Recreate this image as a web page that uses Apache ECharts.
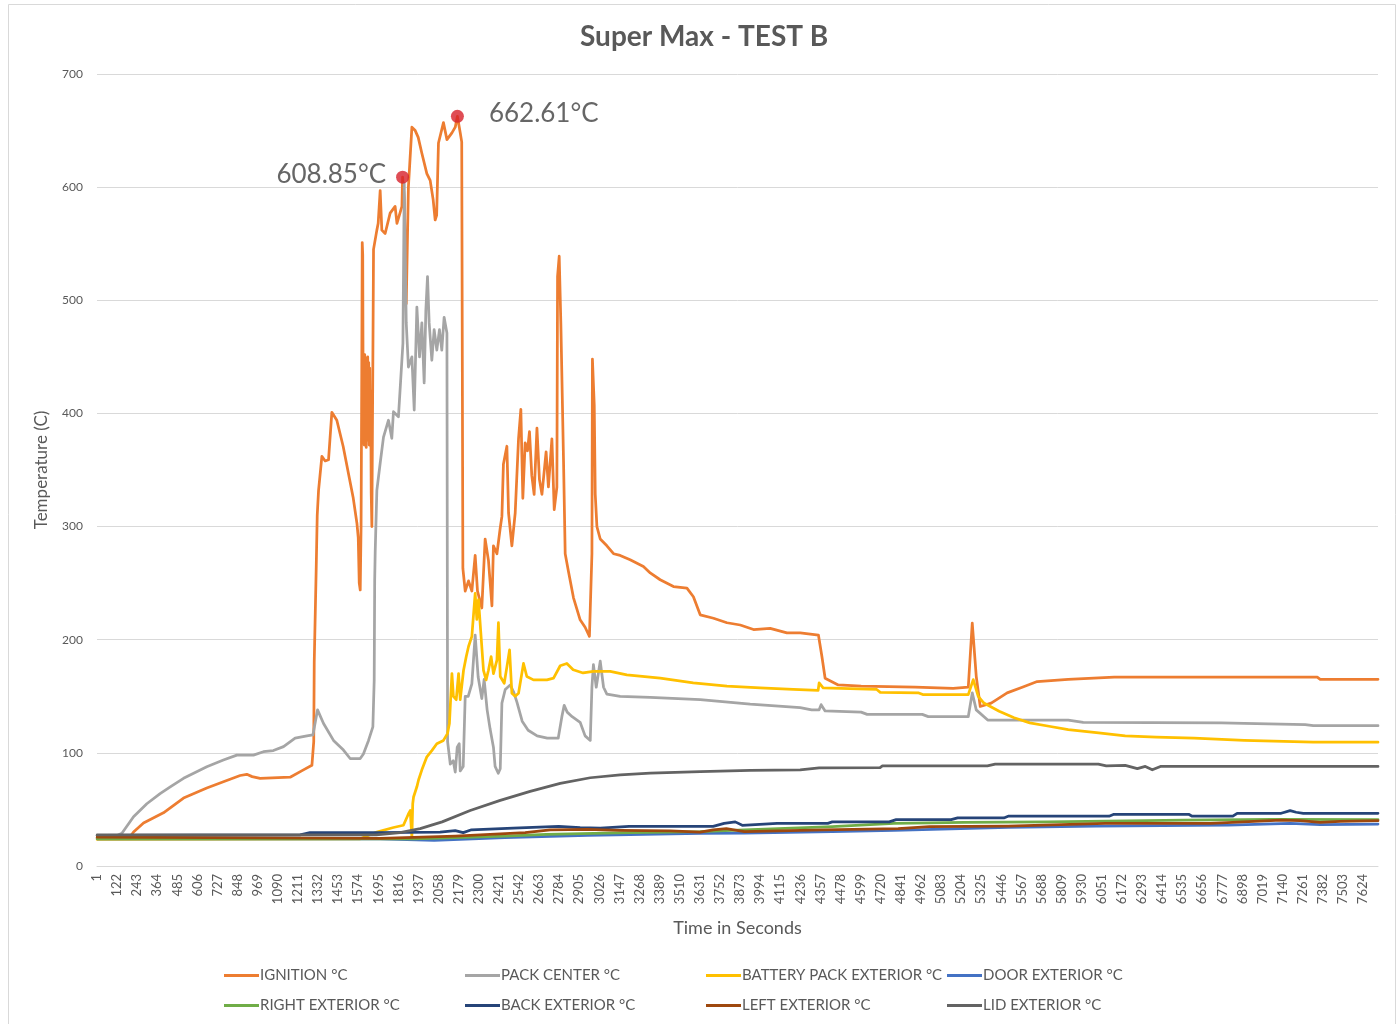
<!DOCTYPE html>
<html>
<head>
<meta charset="utf-8">
<title>Super Max - TEST B</title>
<script src="https://cdn.jsdelivr.net/npm/echarts@6.0.0/dist/echarts.min.js"></script>
<style>
  html, body { margin: 0; padding: 0; background: #ffffff; }
  #chart { width: 1398px; height: 1024px; }
</style>
</head>
<body>
<div id="chart"></div>
<script>
// Temperature logs, [time in seconds, °C]
const ignition = [
  [1,25],[200,26],[220,30],[280,38],[400,47],[521,60],[661,69],[761,74.5],[862,80],[902,81],[934,79],[982,77.5],
  [1163,78.5],[1243,85],[1294,89],[1305,110],[1308,180],[1320,264],[1326,310],[1334,332],[1354,362],[1374,358],
  [1394,359],[1414,401],[1444,394],[1482,371],[1542,326],[1565,303],[1573,290],[1579,250],[1585,244],[1590,300],
  [1594,430],[1597,551],[1600,540],[1603,380],[1606,450],[1609,372],[1612,452],[1615,378],[1618,449],[1621,370],
  [1624,447],[1627,376],[1630,450],[1633,380],[1636,445],[1639,372],[1642,440],[1645,378],[1648,420],[1651,330],
  [1655,300],[1665,545],[1685,562],[1693,568],[1705,597],[1715,562],[1735,559],[1765,577],[1795,583],[1806,568],
  [1836,583],[1840,608.85],[1850,590],[1862,497],[1871,497],[1875,600],[1896,653],[1916,650],[1934,644],[1956,630],
  [1986,612],[2006,606],[2024,589],[2036,571],[2045,575],[2056,639],[2086,657],[2107,642],[2137,648],[2157,653],
  [2170,662.61],[2187,648],[2196,640],[2203,263],[2217,243],[2237,252],[2257,243],[2277,274.5],[2291,243],[2317,228],
  [2337,289],[2357,270],[2378,230],[2387,283],[2408,276],[2428,299],[2438,309],[2447,355],[2468,371],[2478,312],
  [2498,283],[2518,312],[2538,377.5],[2552,403.6],[2564,325],[2578,374],[2592,367],[2604,384],[2618,345],[2632,328.5],
  [2649,387],[2664,341.5],[2679,328.5],[2704,366],[2718,335],[2739,377.5],[2753,315],[2769,335],[2773,521],[2783,539],
  [2793,479],[2809,358],[2819,276],[2839,260],[2869,237],[2909,217.6],[2939,211],[2965,203],[2980,276],[2983,448],
  [2994,407],[3000,328.5],[3010,300],[3030,289],[3070,283],[3110,276],[3150,274.5],[3210,270.6],[3290,264.7],[3331,259],
  [3391,253],[3471,247],[3552,245.6],[3591,238],[3632,222],[3712,219],[3793,215],[3873,213],[3953,209],[4053,210],
  [4154,206],[4234,206],[4344,204],[4365,185],[4384,166],[4463,160],[4601,159],[4926,158],[5155,157],[5246,158],
  [5270,214.7],[5294,167.6],[5318,141],[5384,144],[5480,153],[5571,158],[5661,163],[5848,165],[6125,167],[7347,167],
  [7365,165],[7713,165]
];

const packCenter = [
  [1,27],[121,27],[150,29],[220,43.6],[300,55],[380,64],[441,70],[521,77.5],[661,87.8],[761,93.7],[842,98],[942,98],
  [1002,101],[1062,102],[1123,105.5],[1193,113],[1264,115],[1300,115.8],[1328,138],[1364,126],[1424,111],[1484,102.5],
  [1524,95],[1585,95],[1604,99],[1635,111],[1661,123],[1669,164],[1672,253],[1675,277],[1685,332],[1705,356],[1725,379],
  [1755,394],[1775,378],[1785,401.5],[1815,397],[1825,421],[1842,462],[1850,603],[1862,480],[1875,441],[1896,450],
  [1910,403],[1926,494],[1942,450],[1956,480],[1970,427],[1980,491],[1990,521],[2000,480],[2016,447],[2030,474],
  [2046,456],[2062,474],[2076,456],[2090,485],[2107,471],[2111,110],[2127,90],[2145,93],[2157,83],[2169,105],[2181,108],
  [2187,84],[2205,88],[2217,150],[2235,150],[2257,161],[2277,204],[2295,167],[2317,148],[2331,165],[2349,138],[2367,121],
  [2387,105],[2397,88],[2416,82],[2428,86],[2438,144],[2458,156],[2488,160],[2508,154],[2528,145],[2560,128],[2596,120],
  [2650,115],[2711,113],[2777,113],[2799,132],[2813,142],[2831,136],[2861,132],[2909,127],[2939,115],[2970,111],[2980,158],
  [2989,178],[3006,158],[3030,181],[3050,158],[3070,152],[3150,150],[3331,149],[3632,147],[3933,143],[4234,140],[4303,138],
  [4348,138],[4360,142.6],[4384,137],[4601,136],[4637,134],[4969,134],[5005,132],[5246,132],[5270,153],[5294,138],
  [5363,129],[5571,129],[5848,129],[5938,127],[6769,126.5],[6907,126],[7275,125],[7323,124],[7713,124]
];

const batteryPackExterior = [
  [1,23.5],[1585,24],[1685,30],[1785,34],[1845,36],[1875,46],[1886,49],[1896,25],[1901,55],[1906,61],[1926,70],[1936,76],
  [1956,85],[1986,96.5],[2016,102],[2046,108],[2086,111],[2110,117],[2122,126],[2137,170],[2146,150],[2163,147],[2177,170],
  [2187,147],[2207,173],[2223,185],[2237,194],[2257,203],[2277,241],[2287,218],[2297,235.5],[2311,206],[2327,173],
  [2343,164.5],[2357,173],[2373,185],[2387,170],[2408,182],[2417,215],[2428,167.5],[2452,161.5],[2468,176],[2484,191],
  [2498,152.7],[2518,150],[2538,152.7],[2568,179],[2588,167.5],[2628,164.5],[2709,164.5],[2749,166],[2789,177],[2829,179],
  [2867,173.5],[2927,170.6],[2988,172],[3090,172],[3190,169],[3391,166],[3590,161.8],[3793,159],[3993,157.4],[4192,156],
  [4342,155.3],[4348,161.8],[4372,157.4],[4695,156],[4716,153.5],[4948,153],[4972,151.5],[5246,151.5],[5276,164.7],
  [5306,150],[5340,144],[5432,136.8],[5522,131],[5616,126.5],[5732,123.5],[5848,120.6],[6031,117.6],[6191,115],
  [6378,114],[6606,113],[6907,111],[7323,109.4],[7713,109.4]
];

const doorExterior = [
  [1,24],[1705,24],[2030,22.7],[2455,25],[2954,27],[3632,28.8],[3898,29],[4427,30.3],[4798,31.5],[5486,34.2],
  [6016,35.3],[6812,36.2],[7184,37.7],[7365,36.5],[7713,37]
];

const rightExterior = [
  [1,24],[1906,24],[2455,26.5],[2704,28],[3204,29.5],[3632,30.3],[3898,32],[4427,34.7],[4798,37.7],[5221,38.6],
  [5725,39],[6546,40.6],[7076,41.2],[7713,41]
];

const backExterior = [
  [1,27],[1223,27.5],[1282,29.5],[1681,29.4],[2066,30],[2157,31.2],[2205,29.5],[2255,32],[2506,33.5],[2780,35],
  [2909,34],[3030,33.5],[3204,35],[3451,35],[3710,35],[3776,37.7],[3843,39],[3885,36],[4095,37.7],[4400,37.7],
  [4427,39],[4770,39],[4812,41],[5143,41],[5182,42.5],[5460,42.5],[5486,44],[6094,44],[6123,45.7],[6573,45.7],
  [6594,44],[6839,44],[6865,46.6],[7130,46.6],[7184,49],[7220,47.5],[7263,46.6],[7713,46.6]
];

const leftExterior = [
  [1,25.5],[1705,24.5],[2157,26.5],[2578,29.5],[2729,32],[2954,32.4],[3150,31.5],[3451,31],[3632,30],[3710,32],
  [3789,33],[3898,30.3],[4372,32],[4824,33],[5012,34.7],[5486,35.3],[6070,37.7],[6706,37.7],[7130,40.6],[7245,40],
  [7365,38.5],[7485,39.5],[7713,40]
];

const lidExterior = [
  [1,27.5],[1681,27.5],[1825,29.5],[1946,33],[2078,39],[2247,49],[2428,58],[2608,66],[2789,73],[2970,78],[3150,80.5],
  [3331,82],[3632,83.5],[3933,84.5],[4234,85],[4348,86.8],[4715,87],[4729,88.5],[5361,88.5],[5408,90],[6029,90],
  [6077,88.5],[6191,89],[6264,86],[6312,88],[6354,85],[6403,88],[7713,88]
];

// Highlighted maxima
const peaks = [[1840, 608.85], [2170, 662.61]];

// Time axis tick labels (one every 121 s)
const timeTicks = [1,122,243,364,485,606,727,848,969,1090,1211,1332,1453,1574,1695,1816,1937,2058,2179,2300,2421,
  2542,2663,2784,2905,3026,3147,3268,3389,3510,3631,3752,3873,3994,4115,4236,4357,4478,4599,4720,4841,4962,5083,
  5204,5325,5446,5567,5688,5809,5930,6051,6172,6293,6414,6535,6656,6777,6898,7019,7140,7261,7382,7503,7624];
const TICK_STEP = 121;
const TIME_END = 7713;

const seriesNames = ['IGNITION °C', 'PACK CENTER °C', 'BATTERY PACK EXTERIOR °C', 'DOOR EXTERIOR °C',
  'RIGHT EXTERIOR °C', 'BACK EXTERIOR °C', 'LEFT EXTERIOR °C', 'LID EXTERIOR °C'];
const seriesData = [ignition, packCenter, batteryPackExterior, doorExterior,
  rightExterior, backExterior, leftExterior, lidExterior];
const seriesColors = ['#ED7D31', '#A5A5A5', '#FFC000', '#4472C4', '#70AD47', '#264478', '#9E480E', '#636363'];

const FONT = 'Lato, "Open Sans", sans-serif';
const TEXT = '#595959';

const chart = echarts.init(document.getElementById('chart'), null, { renderer: 'canvas' });

// legend laid out as a 4 x 2 table
const legendCols = [224, 465, 706, 947];
const legendRows = [968, 998];
const legends = seriesNames.map((name, i) => ({
  data: [name],
  left: legendCols[i % 4],
  top: legendRows[Math.floor(i / 4)],
  orient: 'horizontal',
  icon: 'rect',
  itemWidth: 35,
  itemHeight: 3,
  padding: 0,
  selectedMode: false,
  textStyle: { color: TEXT, fontSize: 15, fontFamily: FONT, padding: [0, 0, 0, -4] }
}));

const lineSeries = seriesNames.map((name, i) => ({
  name,
  type: 'line',
  data: seriesData[i],
  showSymbol: false,
  symbol: 'none',
  color: seriesColors[i],
  lineStyle: { width: 2.75, color: seriesColors[i], join: 'round', cap: 'round' },
  emphasis: { disabled: true },
  z: 2 + i * 0.01
}));

const peakSeries = {
  type: 'scatter',
  data: peaks.map((p, i) => ({
    value: p,
    label: i === 0
      ? { position: 'left', distance: 10, offset: [0, -3] }
      : { position: 'right', distance: 25, offset: [0, -3] }
  })),
  symbol: 'circle',
  symbolSize: 13,
  itemStyle: { color: '#D7202A' },
  label: {
    show: true,
    formatter: p => p.value[1].toFixed(2) + '°C',
    fontSize: 26,
    fontFamily: FONT,
    color: '#404040'
  },
  emphasis: { disabled: true },
  z: 10
};

chart.setOption({
  animation: false,
  backgroundColor: '#ffffff',
  title: {
    text: 'Super Max - TEST B',
    left: 575,
    top: 18,
    textStyle: { color: TEXT, fontSize: 28, fontWeight: 'bold', fontFamily: FONT }
  },
  graphic: [{
    type: 'rect',
    shape: { x: 8.5, y: 4.5, width: 1387, height: 1040 },
    style: { fill: 'none', stroke: '#d9d9d9', lineWidth: 1 },
    silent: true,
    z: -1
  }],
  legend: legends,
  grid: { left: 97, right: 20, top: 74, bottom: 158 },
  xAxis: {
    type: 'value',
    min: 0,
    max: TIME_END,
    interval: TICK_STEP,
    name: 'Time in Seconds',
    nameLocation: 'middle',
    nameGap: 53,
    nameTextStyle: { color: TEXT, fontSize: 18, fontFamily: FONT },
    axisLine: { show: true, lineStyle: { color: '#d9d9d9', width: 1 } },
    axisTick: { show: false },
    splitLine: { show: false },
    axisLabel: {
      rotate: 90,
      margin: 8,
      color: TEXT,
      fontSize: 13,
      fontFamily: FONT,
      showMaxLabel: false,
      formatter: v => {
        const i = Math.round(v / TICK_STEP);
        return (Math.abs(v - i * TICK_STEP) < 1e-6 && timeTicks[i] !== undefined) ? String(timeTicks[i]) : '';
      }
    }
  },
  yAxis: {
    type: 'value',
    min: 0,
    max: 700,
    interval: 100,
    name: 'Temperature (C)',
    nameLocation: 'middle',
    nameGap: 47,
    nameTextStyle: { color: TEXT, fontSize: 17, fontFamily: FONT },
    axisLine: { show: false },
    axisTick: { show: false },
    splitLine: { lineStyle: { color: '#d9d9d9', width: 1 } },
    axisLabel: { color: TEXT, fontSize: 12, fontFamily: FONT, margin: 14 }
  },
  series: lineSeries.concat([peakSeries])
});
</script>
</body>
</html>
